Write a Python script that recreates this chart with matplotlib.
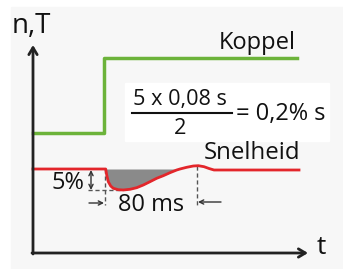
import matplotlib.pyplot as plt
import matplotlib.patches as mpatches

plt.rcParams['font.family'] = ['Open Sans', 'DejaVu Sans']

# layout is in pixel units of the 343x269 picture (y grows downwards)
# torque (Koppel): step up
koppel_t = [33, 104, 104, 297]
koppel_v = [133, 133, 58, 58]

# speed (Snelheid): dip after the load step, small overshoot
snel_t = [33, 105.7, 106.7, 108.3, 110.7, 113.3, 118.3, 123.3, 130, 136.7, 143.3,
          150, 156.7, 163.3, 170, 176.7, 180, 186.7, 193.3, 198.3, 204, 209, 214, 299]
snel_v = [169, 169, 175, 181.7, 186, 188.3, 189.7, 190, 189.3, 187.7, 185,
          181.7, 178.3, 175.7, 172.7, 170, 169, 167.3, 166, 165.7, 166.7, 168.5, 170, 170]

speed_level = 169
dip_start, dip_end = 105.7, 180

labels = {'y': 'n,T', 'x': 't', 'torque': 'Koppel', 'speed': 'Snelheid',
          'dip': '5%', 'time': '80 ms'}
formula_num = '5 x 0,08 s'
formula_den = '2'
formula_res = '= 0,2% s'

GREEN = '#6cb33a'
RED = '#e3262b'
AX = '#222222'

fig = plt.figure(figsize=(3.43, 2.69), dpi=100)
ax = fig.add_axes([0, 0, 1, 1])
ax.set_xlim(0, 343)
ax.set_ylim(269, 0)
ax.axis('off')

# panels
ax.add_patch(mpatches.Rectangle((11, 7), 340, 270, color='#f7f7f7', zorder=0))
ax.add_patch(mpatches.Rectangle((125, 83), 204, 58, color='white', zorder=1))

# axes with open arrow heads
arr = dict(arrowstyle='->,head_length=0.5,head_width=0.3', color=AX, lw=2,
           shrinkA=0, shrinkB=0)
ax.annotate('', xy=(33, 45), xytext=(33, 254), arrowprops=arr, zorder=5)
ax.annotate('', xy=(308, 253), xytext=(32, 253), arrowprops=arr, zorder=5)
ax.text(31, 26, labels['y'], fontsize=20, ha='center', va='center', color='#111')
ax.text(321, 248, labels['x'], fontsize=19, ha='center', va='center', color='#111')

# curves
ax.plot(koppel_t, koppel_v, color=GREEN, lw=2.5, zorder=4)
ax.plot(snel_t, snel_v, color=RED, lw=2, zorder=4)

fill_t = [t for t in snel_t if dip_start <= t <= dip_end]
fill_v = [v for t, v in zip(snel_t, snel_v) if dip_start <= t <= dip_end]
ax.fill_between(fill_t, fill_v, speed_level, color='#8a8a8a', lw=0, zorder=3)

ax.text(257, 43, labels['torque'], fontsize=17, ha='center', va='center', color='#111')
ax.text(252, 153, labels['speed'], fontsize=17.3, ha='center', va='center', color='#111')

# dashed helper lines
dash = dict(color='#555555', lw=1, ls=(0, (3, 2)), zorder=3)
ax.plot([88, 123], [190, 190], **dash)
ax.plot([105, 105], [169, 205], **dash)
ax.plot([197, 197], [166, 205], **dash)

small = dict(arrowstyle='->,head_length=0.3,head_width=0.15', color='#333', lw=1,
             shrinkA=0, shrinkB=0)
ax.annotate('', xy=(104, 203), xytext=(89, 203), arrowprops=small)
ax.annotate('', xy=(198, 202), xytext=(221, 202), arrowprops=small)
ax.annotate('', xy=(91, 170), xytext=(91, 190),
            arrowprops=dict(arrowstyle='<->,head_length=0.3,head_width=0.15',
                            color='#333', lw=1, shrinkA=0, shrinkB=0))
ax.text(67.5, 183, labels['dip'], fontsize=17, ha='center', va='center', color='#111')
ax.text(151, 205, labels['time'], fontsize=17, ha='center', va='center', color='#111')

# formula
ax.text(180, 99, formula_num, fontsize=15.6, ha='center', va='center', color='#111', zorder=2)
ax.plot([132, 232], [113, 113], color='#111', lw=1.5, zorder=2)
ax.text(180, 129, formula_den, fontsize=15.6, ha='center', va='center', color='#111', zorder=2)
ax.text(236, 114, formula_res, fontsize=17, ha='left', va='center', color='#111', zorder=2)

fig.savefig('out.png', dpi=100)
